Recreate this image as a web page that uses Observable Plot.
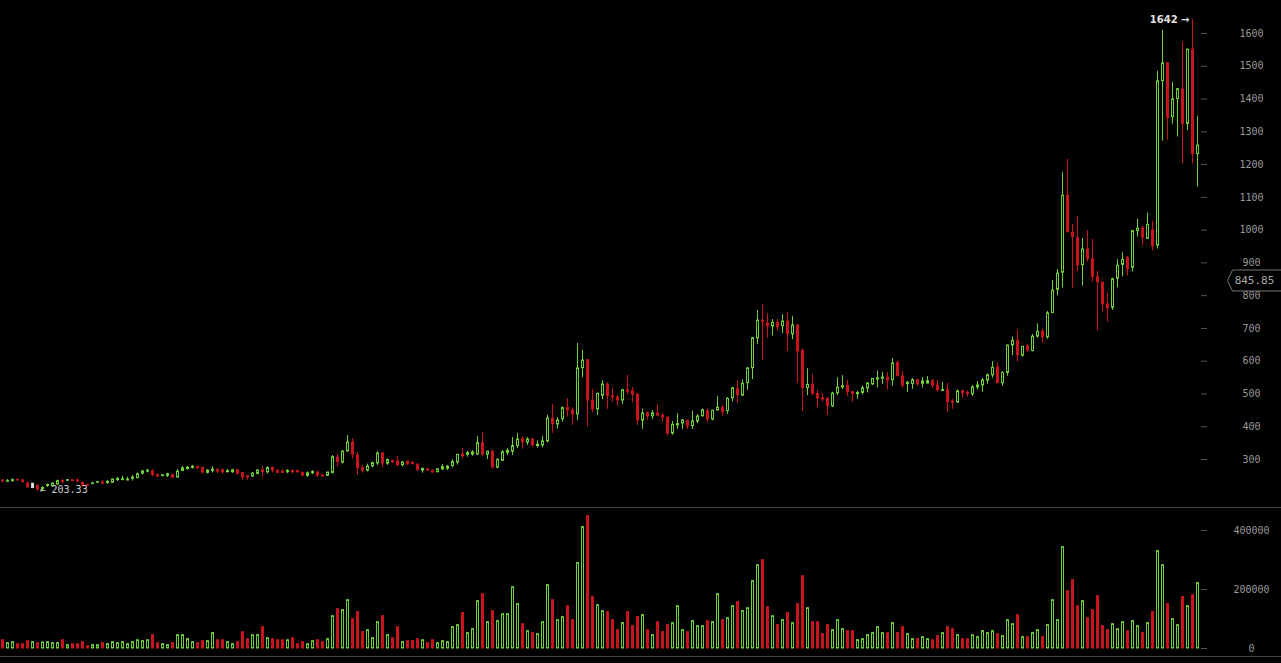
<!DOCTYPE html>
<html><head><meta charset="utf-8">
<script src="https://cdn.jsdelivr.net/npm/d3@7"></script>
<script src="https://cdn.jsdelivr.net/npm/@observablehq/plot@0.6"></script>
<style>
html,body{margin:0;padding:0;background:#000;}
#chart{width:1281px;height:663px;background:#000;overflow:hidden;}
#chart svg{display:block;}
#chart svg.vol{border-top:1px solid #444;border-bottom:1px solid #444;}
</style></head><body><div id="chart"></div>
<script>
const open = [236,232,234,238,236,227,213,220,209,219,218,224,234,235,237,236,229,222,225,229,
230,228,229,237,237,236,241,243,257,263,264,253,249,250,253,245,265,271,274,277,
274,259,265,267,267,261,261,267,258,249,248,256,267,261,274,266,263,261,265,265,
259,250,258,260,251,250,259,306,291,325,352,312,273,266,279,288,318,287,295,294,
283,293,290,284,266,270,266,261,270,272,280,291,315,314,315,316,350,315,324,275,
296,320,324,341,362,352,361,341,343,355,425,407,423,457,450,438,579,603,480,453,
495,529,493,489,480,511,508,498,419,441,432,440,434,428,379,404,410,418,402,416,
432,447,422,450,458,448,487,516,495,533,579,670,724,715,706,717,707,721,682,709,
632,518,528,500,487,486,462,502,520,524,505,499,503,517,529,544,546,550,542,595,
553,530,530,541,531,532,539,526,509,511,477,474,509,503,499,520,526,541,557,581,
533,564,648,662,617,645,631,675,690,673,747,818,870,1105,992,975,893,941,911,856,
840,773,763,852,894,915,885,997,1005,974,999,953,1455,1509,1345,1400,1429,1324,1551,1232];
const high = [237,239,241,240,239,230,227,221,217,225,229,237,240,239,239,241,231,224,231,232,
236,235,240,245,249,246,251,259,265,270,269,255,253,258,254,269,279,279,282,280,
277,269,278,273,271,269,270,270,262,249,260,269,278,278,277,267,269,269,269,267,
262,262,266,265,255,261,312,315,327,373,364,321,282,286,292,324,321,302,298,309,
294,295,293,287,274,272,267,271,285,282,299,316,334,325,327,370,382,324,328,302,
327,333,367,380,368,367,364,357,370,435,468,428,460,486,457,654,633,605,514,503,
541,534,517,495,514,557,520,501,453,445,449,468,440,428,416,440,422,418,447,437,
454,454,449,492,465,489,520,541,543,581,673,755,772,745,727,727,742,748,737,712,
637,577,560,511,501,486,505,550,556,541,508,508,524,534,546,570,566,566,608,601,
569,538,547,546,550,553,544,541,535,532,483,512,512,509,526,538,547,561,599,596,
568,648,674,694,644,651,682,714,697,752,846,880,1176,1216,1017,1042,975,999,972,874,
840,808,853,910,931,920,999,1033,1011,1052,1027,1485,1610,1512,1451,1432,1573,1551,1642,1347];
const low = [229,231,231,235,228,210,211,203.33,206,215,215,220,226,234,233,229,215,218,224,228,
222,224,228,233,236,235,234,241,253,259,247,245,248,245,241,244,263,267,271,270,
255,256,259,257,255,260,258,252,238,237,247,253,246,256,259,258,259,257,256,259,
247,245,254,245,248,249,256,277,286,322,301,252,258,262,275,282,274,282,287,279,
277,282,283,263,258,265,258,260,266,266,275,283,303,307,310,312,310,300,271,272,
294,312,312,333,331,343,338,335,336,351,380,393,414,429,404,419,550,399,442,434,
483,453,474,462,468,498,472,404,392,420,422,432,414,371,374,392,392,392,392,410,
429,413,418,447,432,438,475,472,493,511,544,651,602,670,677,692,684,630,666,533,
446,495,495,457,475,435,459,496,514,493,474,484,497,503,526,518,529,512,524,554,
517,505,514,524,518,530,517,506,509,444,453,472,487,490,493,512,505,530,548,533,
524,554,617,597,612,627,628,670,655,667,747,799,823,992,823,872,829,902,841,692,
750,719,755,824,857,860,872,979,953,971,936,942,1271,1274,1323,1284,1202,1303,1202,1131];
const close = [233,234,237,236,231,215,226,209,213,222,226,234,231,237,234,233,220,220,227,231,
227,232,239,241,240,239,245,255,264,266,253,248,252,255,245,263,273,275,278,273,
261,266,269,263,261,265,267,256,245,245,257,266,262,274,266,259,259,265,261,261,
251,258,262,251,248,260,307,292,324,352,315,274,266,278,289,318,288,298,291,282,
291,285,286,268,271,266,260,270,277,278,292,314,310,320,322,350,315,324,276,299,
322,327,341,361,352,361,343,345,355,425,407,419,457,450,437,578,602,480,453,500,
529,493,489,480,511,507,498,419,440,432,441,434,428,379,406,408,419,401,416,431,
450,423,449,458,445,485,517,496,531,578,670,724,719,706,717,703,721,683,709,630,
518,528,500,486,483,463,501,519,524,506,500,503,517,532,546,548,550,541,593,554,
526,534,542,529,538,539,526,511,512,475,473,508,502,499,520,526,541,557,580,533,
564,648,662,618,644,633,675,690,673,746,815,867,1105,994,979,892,941,912,857,841,
773,761,850,891,909,881,997,1004,977,1016,951,1454,1509,1343,1399,1430,1324,1551,1232,1258];
const volume = [28000,18000,21500,14700,14700,24900,21500,18000,20300,21500,
18000,18000,28000,11300,14700,14700,21500,7900,11300,11300,
18000,14700,21500,18000,21500,14700,21500,28000,24900,28000,
45200,18000,14700,11300,18000,45200,45200,31600,21500,18000,
24900,24900,52000,28000,28000,21500,14700,21500,55400,31600,
45200,45200,72300,35000,31600,28000,28000,28000,35000,14700,
21500,14700,24900,28000,21500,31600,109600,133300,130000,163900,
99400,123200,55400,62200,35000,89300,109600,45200,35000,72300,
21500,24900,24900,31600,28000,18000,28000,18000,24900,21500,
72300,79100,119800,52000,65500,160500,184200,89300,126600,92700,
116400,116400,207900,150300,82500,58800,52000,48600,89300,214700,
163900,96000,106200,143500,96000,289300,411300,448600,174000,146900,
126600,123200,96000,62200,85900,123200,75700,106200,113000,62200,
45200,89300,55400,79100,85900,143500,62200,55400,92700,75700,
75700,92700,89300,184200,96000,102800,143500,157100,126600,136700,
228300,282500,299500,140100,109600,79100,96000,119800,85900,150300,
245200,136700,89300,89300,48600,79100,62200,96000,65500,58800,
58800,28300,31600,45200,52000,72300,52000,52000,85900,52000,
72300,48600,31600,31600,38400,31600,28300,41800,52000,72300,
65500,45200,31600,31600,45200,38400,58800,52000,58800,48600,
41800,96000,82500,113000,38400,38400,52000,62200,38400,79100,
163900,96000,343500,194400,231700,143500,160500,102800,130000,177400,
75700,62200,82500,65500,89300,58800,92700,75700,52000,85900,
123200,330000,282500,150300,99400,79100,174000,143500,180800,221500];
const priceTicks = [300,400,500,600,700,800,900,1000,1100,1200,1300,1400,1500,1600];
const volumeTicks = [0,200000,400000];
const lastPrice = 845.85;
const lowMark = [{i: 7, v: 203.33}];
const highMark = [{i: 238, v: 1642}];
const highlightIndex = 6;

const GREEN = "#6fd13a", RED = "#c8141c", GRAY = "#cfcfcf";
const data = open.map((o, i) => ({i, o, h: high[i], l: low[i], c: close[i], v: volume[i], up: close[i] >= o}));
const col = d => d.i === highlightIndex ? GRAY : (d.up ? GREEN : RED);
const bodyFill = d => d.i === highlightIndex ? "#e8e8e8" : (d.up ? "#000" : RED);

const W = 1281;
const xScale = {domain: [-0.4, data.length - 0.4], axis: null};
const axisStyle = {background: "#000", color: "#999", fontFamily: "DejaVu Sans Mono", fontSize: "10px", overflow: "visible"};

function priceTag(value) {
  return (index, scales, values, dims) => {
    const y = Math.round(scales.y(value)) + 0.5;
    const x0 = dims.width - dims.marginRight + 27.5;
    const g = d3.create("svg:g");
    g.append("path")
      .attr("d", `M${dims.width},${y - 10.5}H${x0 + 5}L${x0},${y}L${x0 + 5},${y + 10.5}H${dims.width}`)
      .attr("fill", "#000").attr("stroke", "#777").attr("stroke-width", 1);
    g.append("text").attr("x", x0 + 27).attr("y", y).attr("dy", "0.35em")
      .attr("text-anchor", "middle").attr("fill", "#aaa")
      .attr("font-family", "DejaVu Sans Mono").attr("font-size", 11)
      .text(value.toFixed(2));
    return g.node();
  };
}

const price = Plot.plot({
  width: W, height: 507,
  marginLeft: 0, marginRight: 81, marginTop: 33, marginBottom: 48,
  style: axisStyle,
  x: xScale,
  y: {domain: [300, 1600], axis: null, label: null},
  color: {type: "identity"},
  marks: [
    Plot.ruleX(data, {x: "i", y1: "l", y2: "h", stroke: col, strokeWidth: 1}),
    Plot.rect(data, {x1: d => d.i - 0.2, x2: d => d.i + 0.2, y1: "o", y2: "c", dx: 0.5, fill: bodyFill, stroke: col, strokeWidth: 1}),
    Plot.axisY({anchor: "right", label: null, ticks: priceTicks, tickSize: 6, tickPadding: 45, textAnchor: "middle", stroke: "#555", fill: "#999", tickFormat: d => String(d)}),
    Plot.text(highMark, {x: "i", y: "v", text: d => `${d.v} →`, textAnchor: "end", dx: -3, fill: "#e0e0e0", fontWeight: "bold", fontSize: 10, fontFamily: "DejaVu Sans"}),
    Plot.text(lowMark, {x: "i", y: "v", text: d => `← ${d.v}`, textAnchor: "start", dx: 2, dy: -1, fill: "#cfcfcf", fontSize: 10, fontFamily: "DejaVu Sans Mono"}),
    priceTag(lastPrice)
  ]
});

const vol = Plot.plot({
  width: W, height: 148,
  marginLeft: 0, marginRight: 81, marginTop: 22, marginBottom: 8,
  style: axisStyle,
  x: xScale,
  y: {domain: [0, 400000], axis: null, label: null},
  color: {type: "identity"},
  marks: [
    Plot.rect(data, {x1: d => d.i - 0.2, x2: d => d.i + 0.2, y1: 0, y2: "v", dx: 0.5, fill: d => d.up ? "#000" : RED, stroke: d => d.up ? GREEN : RED, strokeWidth: 1}),
    Plot.axisY({anchor: "right", label: null, ticks: volumeTicks, tickSize: 6, tickPadding: 45, textAnchor: "middle", stroke: "#555", fill: "#999", tickFormat: d => String(d)})
  ]
});
vol.classList.add("vol");

const root = document.getElementById("chart");
root.append(price, vol);
</script></body></html>
